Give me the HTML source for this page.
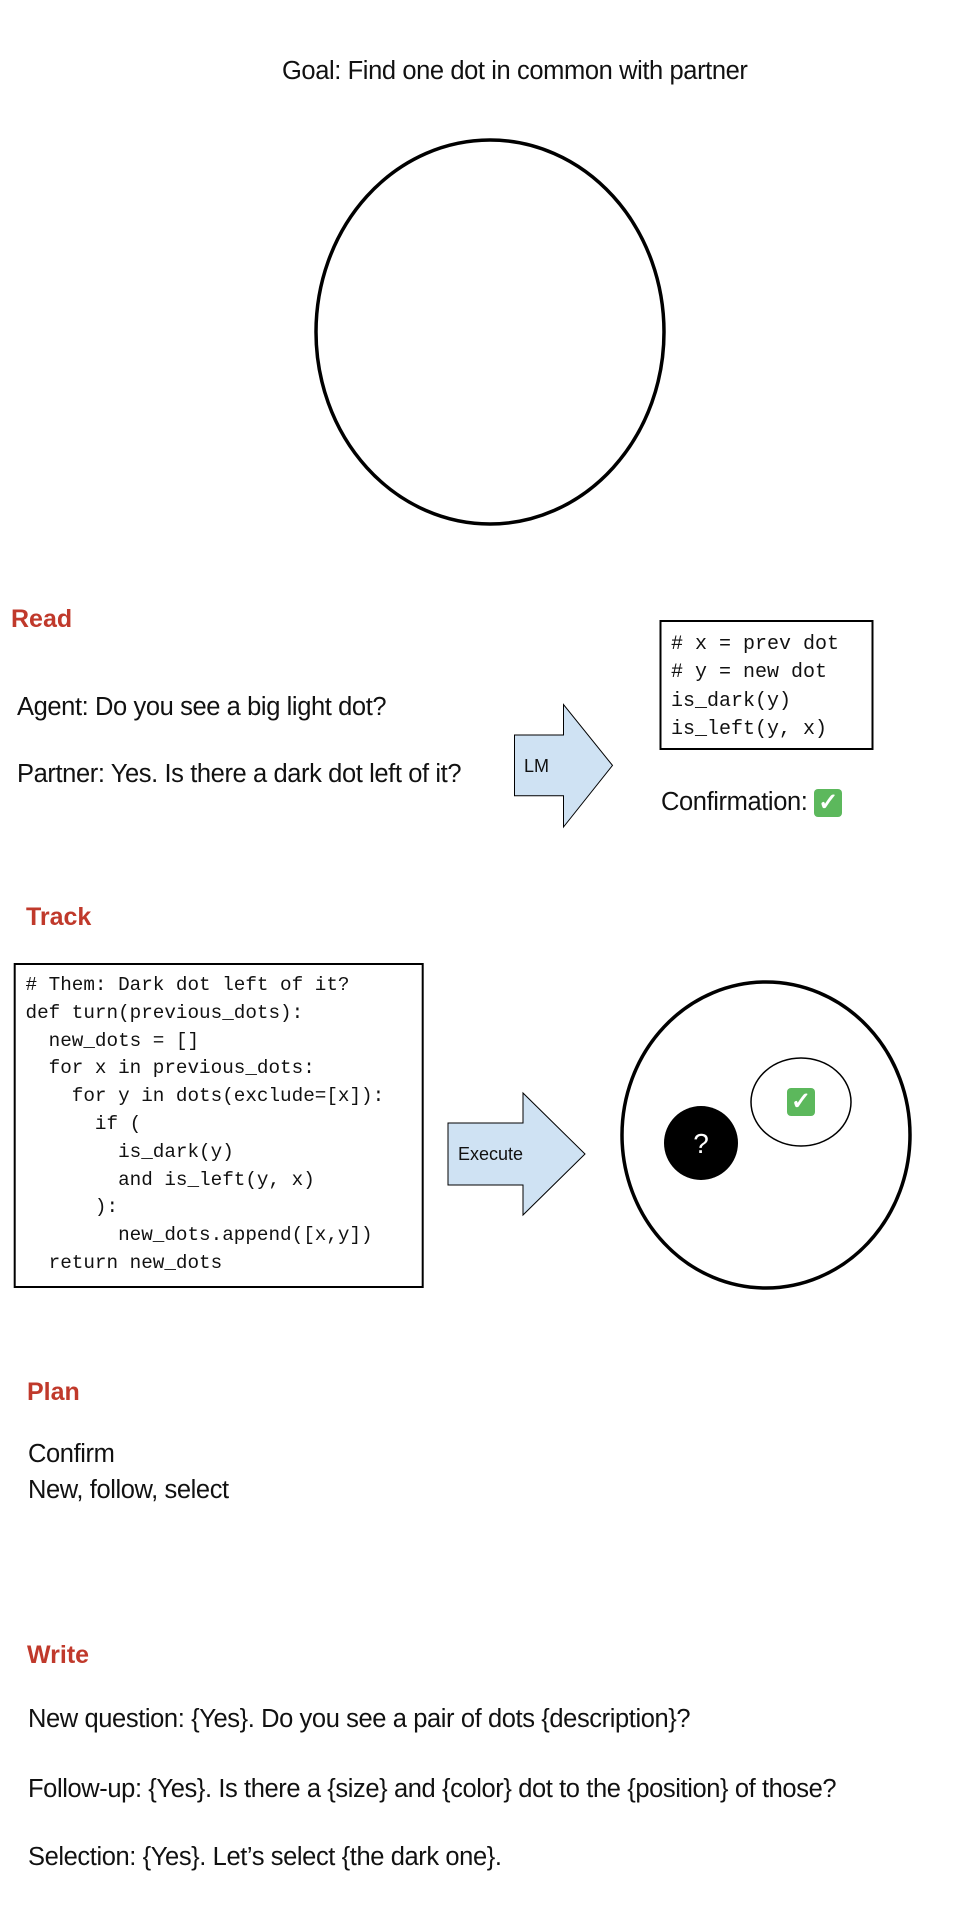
<!DOCTYPE html>
<html><head><meta charset="utf-8"><style>
html,body{margin:0;padding:0;background:#fff;}
body{width:960px;height:1920px;position:relative;overflow:hidden;font-family:"Liberation Sans",sans-serif;color:#111;}
.t{position:absolute;white-space:nowrap;font-size:25.5px;line-height:30px;letter-spacing:-0.4px;}
.h{position:absolute;white-space:nowrap;font-size:25px;font-weight:bold;color:#c0392b;line-height:30px;}
.m{position:absolute;white-space:pre;font-family:"Liberation Mono",monospace;}
.ck{display:inline-block;width:28px;height:28px;background:#5cb85c;border-radius:4px;color:#fff;text-align:center;line-height:28px;font-size:24px;font-weight:bold;vertical-align:middle;}
</style></head><body>
<svg width="960" height="1920" style="position:absolute;left:0;top:0">
<ellipse cx="490" cy="332" rx="174" ry="192" fill="none" stroke="#000" stroke-width="3.5"/>
<polygon points="514.5,735 563.5,735 563.5,704.6 612.5,765.4 563.5,827 563.5,795.8 514.5,795.8" fill="#cfe2f3" stroke="#000" stroke-width="1"/>
<rect x="660.5" y="621" width="212" height="128" fill="none" stroke="#000" stroke-width="2"/>
<rect x="14.7" y="964" width="408" height="323" fill="none" stroke="#000" stroke-width="2"/>
<polygon points="448,1123 523,1123 523,1093 585,1154 523,1215 523,1185 448,1185" fill="#cfe2f3" stroke="#000" stroke-width="1"/>
<ellipse cx="766" cy="1135" rx="144" ry="153" fill="none" stroke="#000" stroke-width="3.5"/>
<ellipse cx="701" cy="1143" rx="37" ry="37" fill="#000"/>
<ellipse cx="801" cy="1102" rx="50" ry="44" fill="none" stroke="#000" stroke-width="1.5"/>
<text x="701" y="1153" fill="#fff" font-family="Liberation Sans" font-size="28" text-anchor="middle">?</text>
</svg>
<div class="t" style="left:282px;top:56px;">Goal: Find one dot in common with partner</div>
<div class="h" style="left:11px;top:604px;">Read</div>
<div class="t" style="left:17px;top:692px;">Agent: Do you see a big light dot?</div>
<div class="t" style="left:17px;top:759px;">Partner: Yes. Is there a dark dot left of it?</div>
<div class="t" style="left:524px;top:751px;font-size:18px;letter-spacing:0;">LM</div>
<div class="m" style="left:671px;top:631px;font-size:20px;line-height:28.4px;"># x = prev dot
# y = new dot
is_dark(y)
is_left(y, x)</div>
<div class="t" style="left:661px;top:787px;">Confirmation: <span class="ck">✓</span></div>
<div class="h" style="left:26px;top:902px;">Track</div>
<div class="m" style="left:25.5px;top:972px;font-size:19.3px;line-height:27.8px;"># Them: Dark dot left of it?
def turn(previous_dots):
  new_dots = []
  for x in previous_dots:
    for y in dots(exclude=[x]):
      if (
        is_dark(y)
        and is_left(y, x)
      ):
        new_dots.append([x,y])
  return new_dots</div>
<div class="t" style="left:458px;top:1139px;font-size:18px;letter-spacing:0;">Execute</div>
<div style="position:absolute;left:787px;top:1088px;"><span class="ck">✓</span></div>
<div class="h" style="left:27px;top:1377px;">Plan</div>
<div class="t" style="left:28px;top:1439px;">Confirm</div>
<div class="t" style="left:28px;top:1475px;">New, follow, select</div>
<div class="h" style="left:27px;top:1640px;">Write</div>
<div class="t" style="left:28px;top:1704px;">New question: {Yes}. Do you see a pair of dots {description}?</div>
<div class="t" style="left:28px;top:1774px;">Follow-up: {Yes}. Is there a {size} and {color} dot to the {position} of those?</div>
<div class="t" style="left:28px;top:1842px;">Selection: {Yes}. Let’s select {the dark one}.</div>
</body></html>
